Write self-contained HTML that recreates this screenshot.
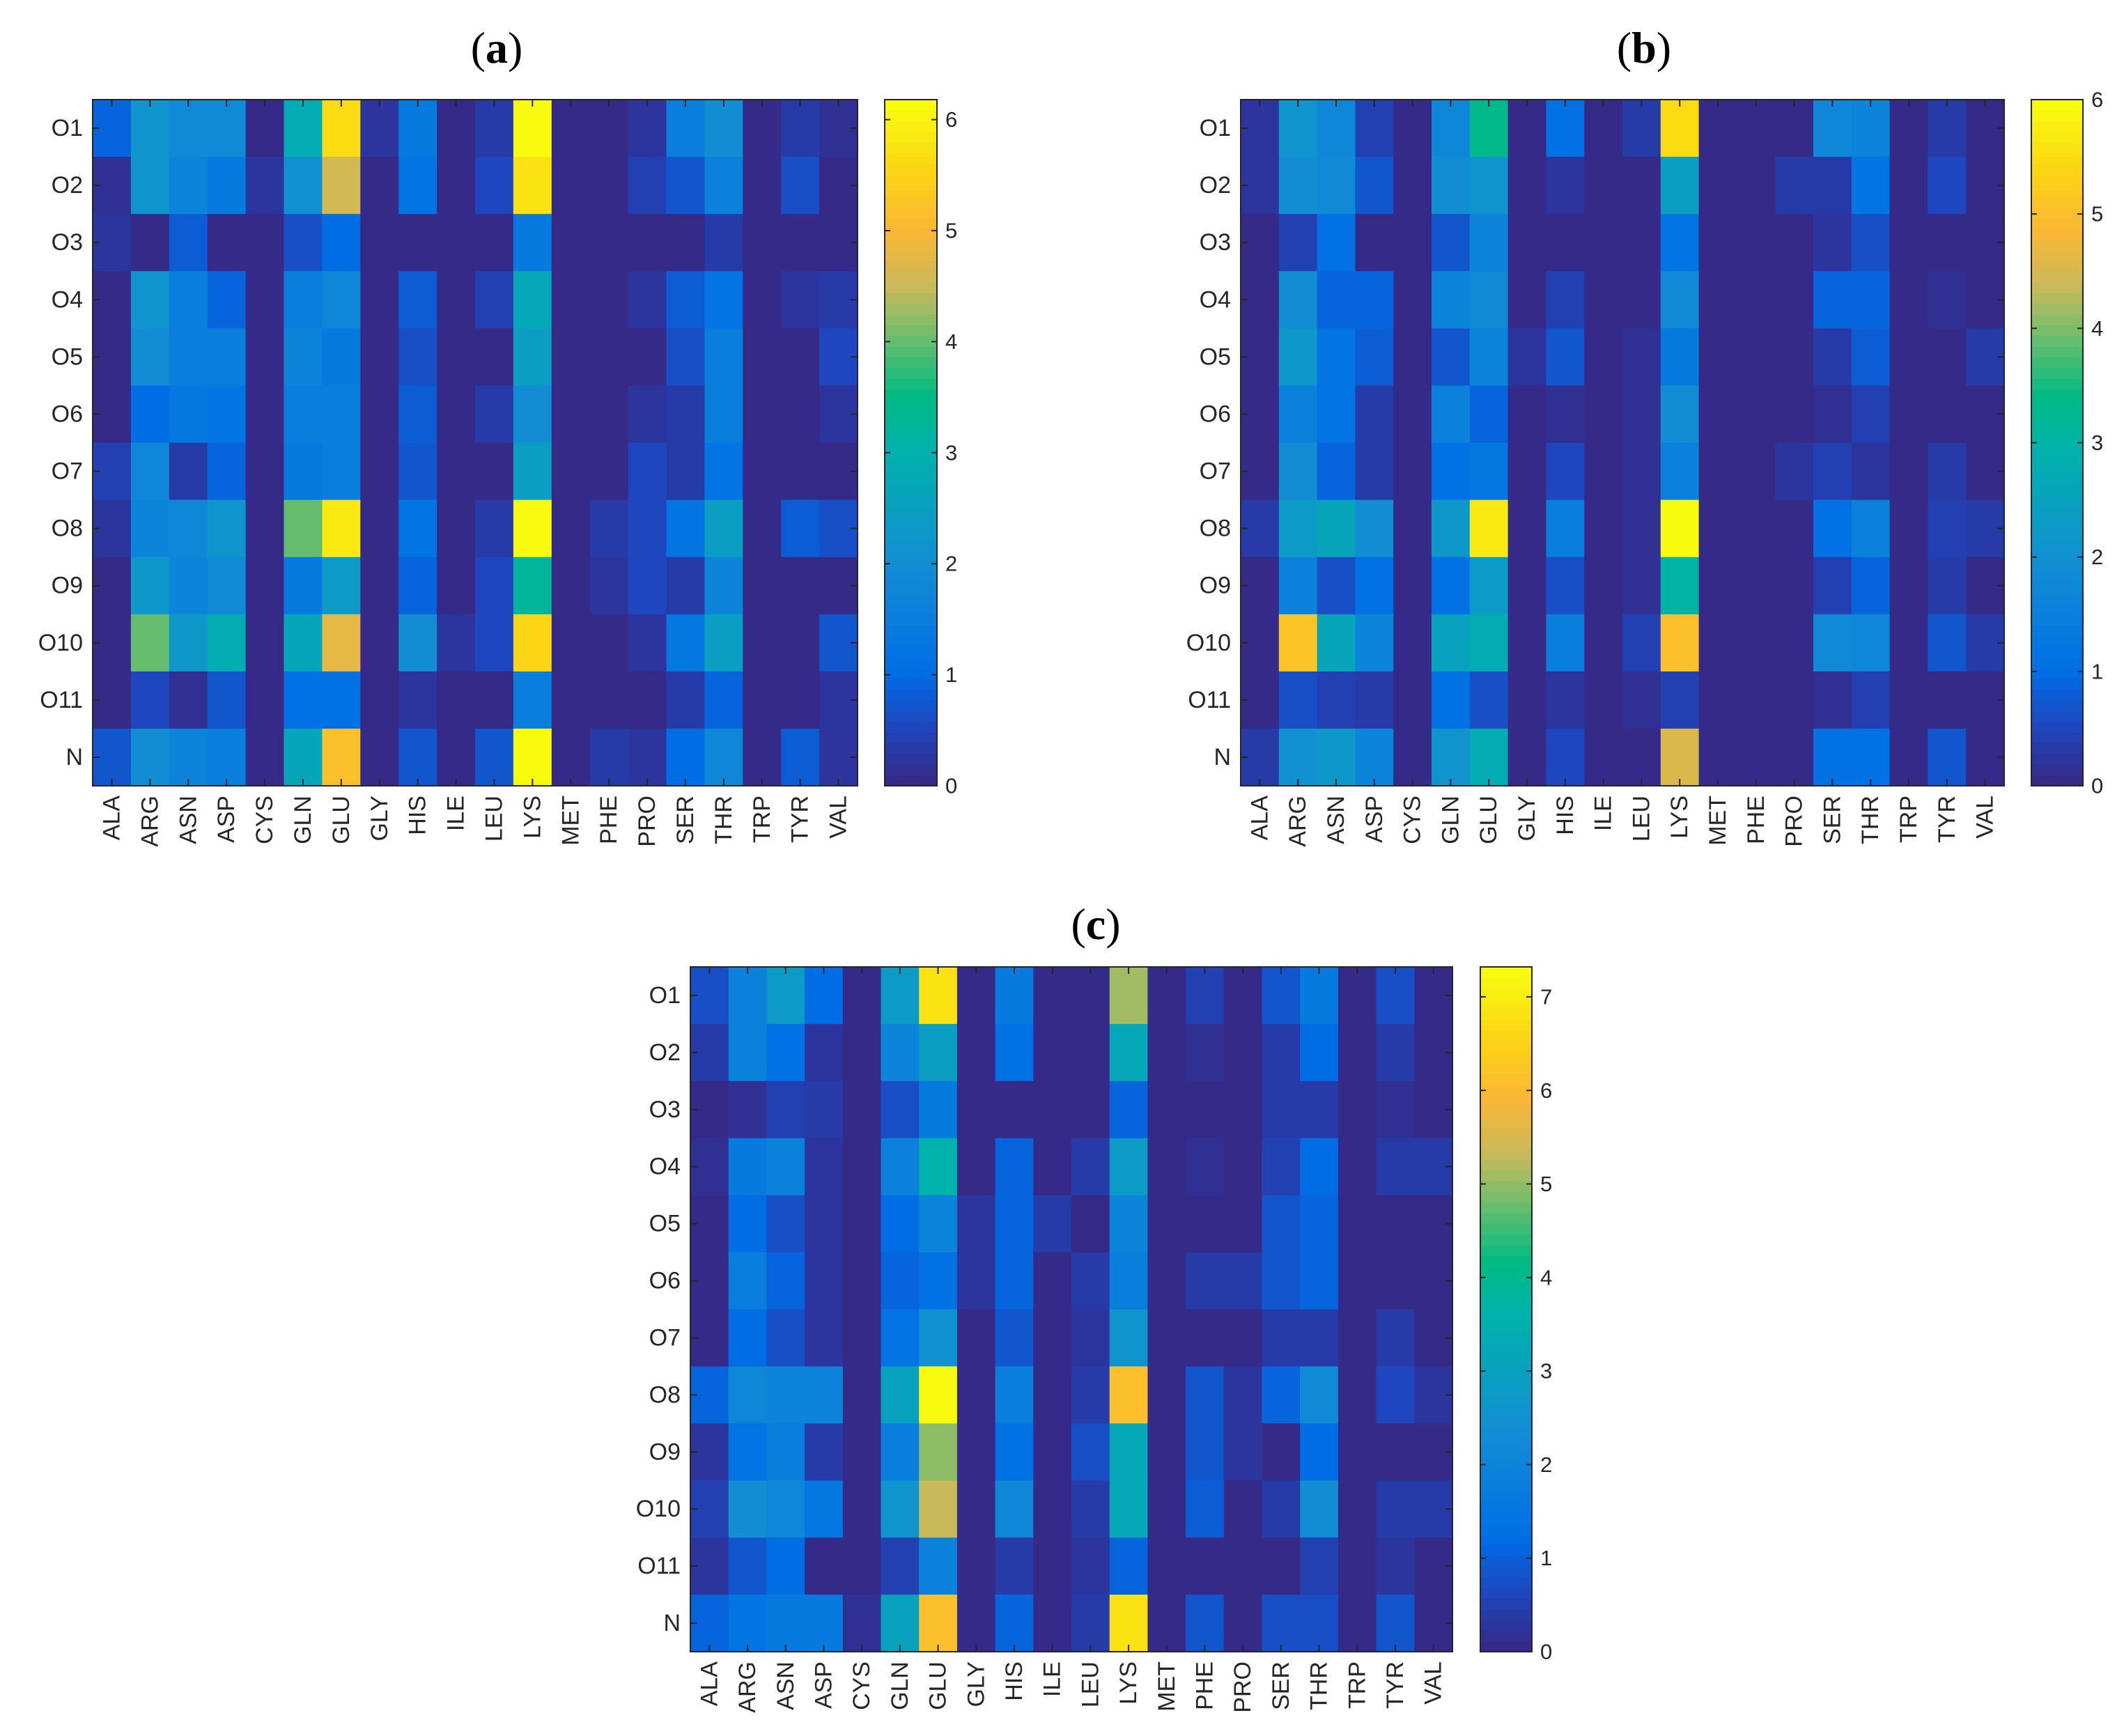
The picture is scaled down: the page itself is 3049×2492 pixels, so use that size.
<!DOCTYPE html>
<html><head><meta charset="utf-8">
<style>
html,body{margin:0;padding:0;background:#fff;}
svg{display:block;}
text{font-family:"Liberation Sans",Arial,sans-serif;fill:#262626;}
.title{font-family:"Liberation Serif","Times New Roman",serif;font-size:64px;fill:#000;}
</style></head>
<body>
<svg id="fig" width="3049" height="2492" viewBox="0 0 3049 2492" xmlns="http://www.w3.org/2000/svg"></svg>
<script>
const residues = ["ALA","ARG","ASN","ASP","CYS","GLN","GLU","GLY","HIS","ILE","LEU","LYS","MET","PHE","PRO","SER","THR","TRP","TYR","VAL"];
const atoms = ["O1","O2","O3","O4","O5","O6","O7","O8","O9","O10","O11","N"];
const valuesA = [
[0.9,2.2,1.9,1.9,0,2.8,5.7,0.2,1.4,0,0.3,6.15,0,0,0.15,1.5,2.0,0,0.25,0.1],
[0.1,2.2,1.7,1.4,0.2,2.1,4.6,0,1.2,0,0.5,5.8,0,0,0.4,0.7,1.6,0,0.55,0],
[0.15,0,0.8,0,0,0.6,1.0,0,0,0,0,1.4,0,0,0,0,0.3,0,0,0],
[0,2.2,1.5,0.9,0,1.5,1.8,0,0.8,0,0.35,2.7,0,0,0.15,0.8,1.2,0,0.15,0.25],
[0,2.0,1.5,1.5,0,1.7,1.4,0,0.6,0,0,2.5,0,0,0,0.6,1.5,0,0,0.5],
[0,1.0,1.3,1.2,0,1.5,1.5,0,0.8,0,0.25,2.0,0,0,0.15,0.25,1.5,0,0,0.15],
[0.35,1.8,0.3,0.9,0,1.4,1.5,0,0.7,0,0,2.5,0,0,0.5,0.25,1.2,0,0,0],
[0.2,1.7,1.8,2.2,0,4.0,5.9,0,1.2,0,0.3,6.15,0,0.25,0.5,1.2,2.5,0,0.8,0.55],
[0,2.3,1.7,1.9,0,1.4,2.4,0,0.9,0,0.5,3.2,0,0.15,0.5,0.25,1.7,0,0,0],
[0,4.0,2.3,2.8,0,2.6,4.8,0,2.0,0.2,0.5,5.6,0,0,0.15,1.3,2.5,0,0,0.7],
[0,0.45,0.1,0.7,0,1.1,1.1,0,0.15,0,0,1.5,0,0,0,0.3,0.9,0,0,0.2],
[0.7,2.0,1.7,1.5,0,2.6,5.2,0,0.7,0,0.7,6.15,0,0.25,0.15,1.0,1.8,0,0.8,0.15]
];
const valuesB = [
[0.2,2.1,1.7,0.4,0,1.7,3.3,0,1.0,0,0.3,5.5,0,0,0,1.7,1.6,0,0.3,0],
[0.2,1.9,1.8,0.7,0,1.9,2.1,0,0.2,0,0,2.4,0,0,0.3,0.3,1.1,0,0.5,0],
[0,0.4,1.0,0,0,0.7,1.6,0,0,0,0,1.1,0,0,0,0.2,0.6,0,0,0],
[0,1.9,0.9,0.9,0,1.6,1.8,0,0.4,0,0,1.8,0,0,0,0.9,0.9,0,0.1,0],
[0,2.2,1.1,0.8,0,0.7,1.6,0.2,0.7,0,0.1,1.3,0,0,0,0.3,0.8,0,0,0.25],
[0,1.5,1.1,0.25,0,1.5,0.9,0,0.1,0,0.1,1.9,0,0,0,0.1,0.4,0,0,0],
[0,1.9,0.9,0.25,0,1.0,1.2,0,0.5,0,0.1,1.5,0,0,0.2,0.35,0.15,0,0.3,0],
[0.3,2.3,2.6,1.9,0,2.2,5.7,0,1.4,0,0.1,6.0,0,0,0,1.0,1.5,0,0.4,0.25],
[0,1.5,0.6,1.0,0,1.0,2.3,0,0.6,0,0.1,3.0,0,0,0,0.4,0.9,0,0.3,0],
[0,5.1,2.6,1.6,0,2.5,2.8,0,1.4,0,0.4,5.0,0,0,0,1.8,1.7,0,0.7,0.3],
[0,0.6,0.4,0.25,0,1.0,0.6,0,0.2,0,0.1,0.35,0,0,0,0.1,0.4,0,0,0],
[0.3,2.0,2.2,1.6,0,2.1,2.8,0,0.5,0,0,4.6,0,0,0,1.0,1.0,0,0.7,0]
];
const valuesC = [
[0.7,1.9,2.8,1.2,0,2.8,6.8,0,1.6,0,0,5.1,0,0.5,0,0.8,1.6,0,0.7,0],
[0.3,1.9,1.3,0.2,0,2.0,2.9,0,1.3,0,0,3.2,0,0.15,0,0.3,1.2,0,0.35,0],
[0,0.1,0.5,0.35,0,0.7,1.6,0,0,0,0,1.1,0,0,0,0.35,0.3,0,0.15,0],
[0.15,1.6,1.9,0.2,0,1.9,3.6,0,1.1,0,0.4,2.8,0,0.15,0,0.5,1.2,0,0.35,0.35],
[0,1.2,0.7,0.2,0,1.2,2.0,0.2,1.1,0.3,0,2.0,0,0,0,0.8,1.0,0,0,0],
[0,1.7,1.0,0.2,0,1.1,1.3,0.2,1.1,0,0.3,1.8,0,0.3,0.3,0.8,1.0,0,0,0],
[0,1.2,0.7,0.2,0,1.4,2.4,0,0.8,0,0.2,2.5,0,0,0,0.35,0.35,0,0.3,0],
[1.1,2.1,2.0,2.0,0,3.0,7.3,0,1.8,0,0.3,6.2,0,0.8,0.2,1.0,2.2,0,0.6,0.2],
[0.2,1.4,1.7,0.35,0,1.8,5.0,0,1.3,0,0.7,3.3,0,0.8,0.2,0,1.2,0,0,0],
[0.5,2.3,2.1,1.5,0,2.5,5.3,0,2.1,0,0.3,3.3,0,0.9,0,0.4,2.3,0,0.4,0.35],
[0.2,0.8,1.2,0,0,0.5,1.9,0,0.3,0,0.2,1.0,0,0,0,0,0.45,0,0.2,0],
[1.1,1.4,1.6,1.6,0.1,3.0,6.2,0,1.1,0,0.3,6.9,0,0.8,0,0.7,0.7,0,0.8,0]
];
const ticksA = [0,1,2,3,4,5,6];
const ticksB = [0,1,2,3,4,5,6];
const ticksC = [0,1,2,3,4,5,6,7];

const PS=[0,0.08,0.16,0.32,0.49,0.57,0.65,0.73,0.81,0.9,1.0];
const PC=[[53,42,135],[30,70,190],[0,110,230],[18,142,212],[0,178,172],[0,186,130],[100,190,110],[200,186,90],[250,182,55],[252,212,20],[249,251,14]];
function parula(t){t=Math.max(0,Math.min(1,t));t=Math.round(t*63)/63;let i=0;while(i<PS.length-2&&t>PS[i+1])i++;const f=(t-PS[i])/(PS[i+1]-PS[i]);const c=PC[i].map((v,k)=>Math.round(v+(PC[i+1][k]-v)*f));return `rgb(${c[0]},${c[1]},${c[2]})`;}
const NS="http://www.w3.org/2000/svg";
const svg=document.getElementById('fig');
function el(tag,attrs,parent){const e=document.createElementNS(NS,tag);for(const k in attrs)e.setAttribute(k,attrs[k]);(parent||svg).appendChild(e);return e;}

function panel(id,label,vals,vmax,ticks,x0,x1,y0,y1,cb0,cb1,tx,ty){
  const g=el('g',{});
  
  
  const cw=(x1-x0)/residues.length, ch=(y1-y0)/atoms.length;
  const xs=i=>x0+i*cw, ys=j=>y0+j*ch;
  const t=el('text',{x:tx,y:ty,'text-anchor':'middle','class':'title'},g);
  t.innerHTML='(<tspan font-weight="bold">'+id+'</tspan>)';
  
  
  for(let j=0;j<atoms.length;j++)for(let i=0;i<residues.length;i++){
    const r=el('rect',{x:xs(i),y:ys(j),width:cw+0.6,height:ch+0.6,fill:parula(vals[j][i]/vmax)},g);
    
    
  }
  el('rect',{x:x0,y:y0,width:x1-x0,height:y1-y0,fill:'none',stroke:'#262626','stroke-width':2},g);
  for(let i=0;i<residues.length;i++){
    const cx=xs(i)+cw/2;
    el('line',{x1:cx,y1:y1,x2:cx,y2:y1-10,stroke:'#262626','stroke-width':2},g);
    el('line',{x1:cx,y1:y0,x2:cx,y2:y0+10,stroke:'#262626','stroke-width':2},g);
    const lt=el('text',{x:0,y:0,'font-size':34,'text-anchor':'end','dominant-baseline':'central',transform:`translate(${cx},${y1+14}) rotate(-90)`},g);
    lt.textContent=residues[i];
    
    
  }
  for(let j=0;j<atoms.length;j++){
    const cy=ys(j)+ch/2;
    el('line',{x1:x0,y1:cy,x2:x0+10,y2:cy,stroke:'#262626','stroke-width':2},g);
    el('line',{x1:x1,y1:cy,x2:x1-10,y2:cy,stroke:'#262626','stroke-width':2},g);
    const lt=el('text',{x:x0-14,y:cy,'font-size':34,'text-anchor':'end','dominant-baseline':'central'},g);
    lt.textContent=atoms[j];
    
    
  }
  const cbg=el('g',{},g);
  
  
  const N=64,h=(y1-y0)/N;
  for(let k=0;k<N;k++){el('rect',{x:cb0,y:y1-(k+1)*h,width:cb1-cb0,height:h+0.6,fill:parula(k/63)},cbg);}
  el('rect',{x:cb0,y:y0,width:cb1-cb0,height:y1-y0,fill:'none',stroke:'#262626','stroke-width':2},cbg);
  ticks.forEach(v=>{const y=y1-v/vmax*(y1-y0);
    el('line',{x1:cb1,y1:y,x2:cb1-8,y2:y,stroke:'#262626','stroke-width':2},cbg);
    el('line',{x1:cb0,y1:y,x2:cb0+8,y2:y,stroke:'#262626','stroke-width':2},cbg);
    const lt=el('text',{x:cb1+12,y:y,'font-size':31,'dominant-baseline':'central'},cbg);
    lt.textContent=v;
    
    
  });
}
panel('a','(a)',valuesA,6.18,ticksA,133,1231,143,1128,1270,1345,713,90);
panel('b','(b)',valuesB,6.0,ticksB,1781,2877,143,1128,2916,2990,2360,90);
panel('c','(c)',valuesC,7.32,ticksC,991,2085,1388,2371,2125,2199,1573,1348);
</script>
</body></html>
